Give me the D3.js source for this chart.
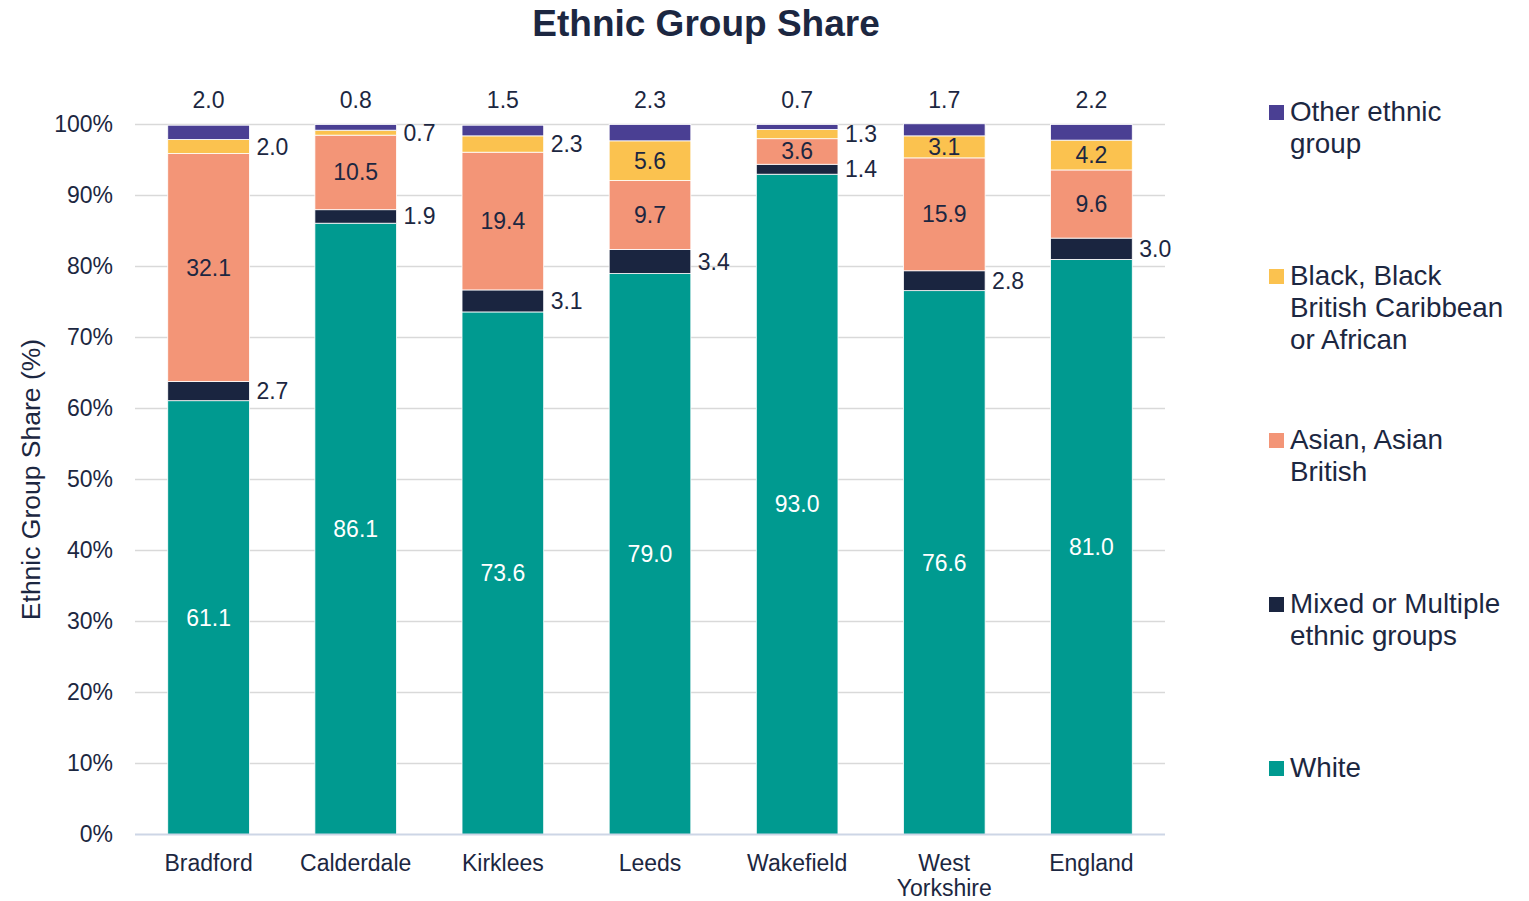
<!DOCTYPE html>
<html>
<head>
<meta charset="utf-8">
<script src="https://cdn.jsdelivr.net/npm/d3@7"></script>
<style>
  html, body { margin: 0; padding: 0; background: #fff; }
  svg { display: block; font-family: "Liberation Sans", Arial, sans-serif; }
</style>
</head>
<body>
<svg id="chart" width="1529" height="901"></svg>
<script>
// ---- data ----
const categories = ["Bradford", "Calderdale", "Kirklees", "Leeds", "Wakefield", "West Yorkshire", "England"];
const seriesNames = ["White", "Mixed or Multiple ethnic groups", "Asian, Asian British", "Black, Black British Caribbean or African", "Other ethnic group"];
const white  = [61.1, 86.1, 73.6, 79.0, 93.0, 76.6, 81.0];
const mixed  = [2.7, 1.9, 3.1, 3.4, 1.4, 2.8, 3.0];
const asian  = [32.1, 10.5, 19.4, 9.7, 3.6, 15.9, 9.6];
const black  = [2.0, 0.7, 2.3, 5.6, 1.3, 3.1, 4.2];
const other  = [2.0, 0.8, 1.5, 2.3, 0.7, 1.7, 2.2];
const yTicks = [0, 10, 20, 30, 40, 50, 60, 70, 80, 90, 100];
const seriesValues = [white, mixed, asian, black, other];

// ---- styling ----
const colors = ["#009A90", "#1A2540", "#F39577", "#FBC24F", "#4A3F93"];
const textColor = "#1C2741";

const svg = d3.select("#chart");
const plot = { left: 135, right: 1165, top: 124.5, bottom: 834.5 };

const rows = categories.map((c, i) => {
  const r = { category: c };
  seriesNames.forEach((s, k) => r[s] = seriesValues[k][i]);
  return r;
});
const stacked = d3.stack().keys(seriesNames)(rows);

const x = d3.scaleBand().domain(categories).range([plot.left, plot.right]).paddingInner(0.445).paddingOuter(0.2225);
const y = d3.scaleLinear().domain([0, 100]).range([plot.bottom, plot.top]);

// title
svg.append("text")
  .attr("x", 706).attr("y", 36)
  .attr("text-anchor", "middle")
  .attr("font-size", 37).attr("font-weight", "bold")
  .attr("fill", textColor)
  .text("Ethnic Group Share");

// gridlines
svg.append("g").selectAll("line")
  .data(yTicks.filter(t => t > 0))
  .join("line")
  .attr("x1", plot.left).attr("x2", plot.right)
  .attr("y1", d => y(d)).attr("y2", d => y(d))
  .attr("stroke", "#D9D9D9").attr("stroke-width", 1.5);

// y axis tick labels
const yAxis = d3.axisLeft(y).tickValues(yTicks).tickFormat(d => d + "%").tickSize(0).tickPadding(22);
const gy = svg.append("g").attr("transform", `translate(${plot.left},0)`).call(yAxis);
gy.select(".domain").remove();
gy.selectAll("text").attr("font-size", 23).attr("fill", textColor).attr("font-family", "Liberation Sans, Arial, sans-serif");

// y axis title
svg.append("text")
  .attr("transform", `translate(40,${(plot.top + plot.bottom) / 2}) rotate(-90)`)
  .attr("text-anchor", "middle")
  .attr("font-size", 26.5).attr("fill", textColor)
  .text("Ethnic Group Share (%)");

// bars
const layers = svg.append("g").selectAll("g")
  .data(stacked)
  .join("g")
  .attr("fill", (d, i) => colors[i]);

layers.selectAll("rect")
  .data(d => d.map(v => ({ v, key: d.key })))
  .join("rect")
  .attr("x", d => x(d.v.data.category))
  .attr("width", x.bandwidth())
  .attr("y", d => y(d.v[1]))
  .attr("height", d => y(d.v[0]) - y(d.v[1]))
  .attr("stroke", "#ffffff").attr("stroke-width", 0.8);

// x axis
const xAxis = d3.axisBottom(x).tickSize(0).tickPadding(0);
const gx = svg.append("g").attr("transform", `translate(0,${plot.bottom})`).call(xAxis);
gx.select(".domain").attr("stroke", "#CDD6E6").attr("stroke-width", 2).attr("d", `M${plot.left},0H${plot.right}`);
gx.selectAll("text").remove();
const catLabels = svg.append("g");
categories.forEach(c => {
  const t = catLabels.append("text")
    .attr("x", x(c) + x.bandwidth() / 2).attr("y", 871)
    .attr("text-anchor", "middle")
    .attr("font-size", 23).attr("fill", textColor)
    .text(c);
  if (t.node().getComputedTextLength() > x.step()) {
    const words = c.split(" ");
    t.text(null);
    words.forEach((w, i) => {
      t.append("tspan").attr("x", x(c) + x.bandwidth() / 2).attr("dy", i === 0 ? 0 : 24.5).text(w);
    });
  }
});

// data labels
const fmt = d3.format(".1f");
const labels = svg.append("g").attr("font-size", 23);
stacked.forEach((layer, k) => {
  layer.forEach(v => {
    const val = v[1] - v[0];
    const cx = x(v.data.category) + x.bandwidth() / 2;
    const midY = (y(v[0]) + y(v[1])) / 2;
    let lx, ly, anchor = "middle", fill = textColor;
    if (k === 4) {            // other: above bar
      lx = cx; ly = y(100) - 17;
    } else if (k === 1 || (k === 3 && val < 2.5)) { // outside right
      lx = x(v.data.category) + x.bandwidth() + 7; ly = midY + 8; anchor = "start";
    } else {
      lx = cx; ly = midY + 8;
      if (k === 0) fill = "#ffffff";
    }
    labels.append("text")
      .attr("x", lx).attr("y", ly)
      .attr("text-anchor", anchor)
      .attr("fill", fill)
      .text(fmt(val));
  });
});

// legend
const legendOrder = [4, 3, 2, 1, 0];
const legendLines = [
  ["Other ethnic", "group"],
  ["Black, Black", "British Caribbean", "or African"],
  ["Asian, Asian", "British"],
  ["Mixed or Multiple", "ethnic groups"],
  ["White"]
];
const legend = svg.append("g");
legendOrder.forEach((k, i) => {
  const by = 121 + i * 164;
  legend.append("rect")
    .attr("x", 1269).attr("y", by - 16)
    .attr("width", 15).attr("height", 15)
    .attr("fill", colors[k]);
  const t = legend.append("text")
    .attr("x", 1290).attr("y", by)
    .attr("font-size", 27.8).attr("fill", textColor);
  legendLines[i].forEach((ln, j) => {
    t.append("tspan").attr("x", 1290).attr("dy", j === 0 ? 0 : 32).text(ln);
  });
});
</script>
</body>
</html>
